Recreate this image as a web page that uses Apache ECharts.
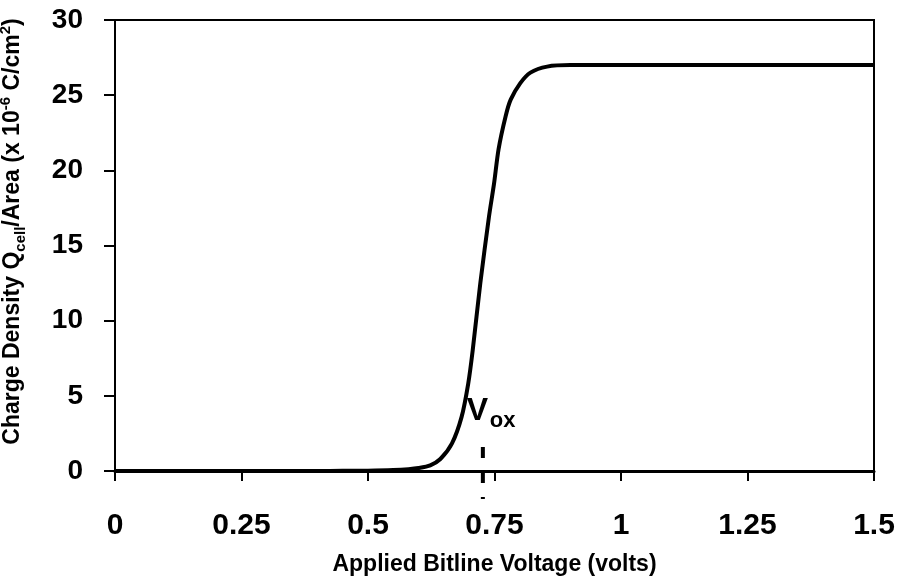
<!DOCTYPE html>
<html>
<head>
<meta charset="utf-8">
<script src="https://cdn.jsdelivr.net/npm/echarts@6/dist/echarts.min.js"></script>
<style>
  html, body { margin: 0; padding: 0; background: #fff; }
  #chart { width: 898px; height: 583px; }
</style>
</head>
<body>
<div id="chart"></div>
<script>
// applied bitline voltage (volts) and charge density (x 1e-6 C/cm^2)
var voltage = [0, 0.1, 0.2, 0.3, 0.4, 0.45, 0.5, 0.55, 0.58, 0.6, 0.623, 0.643, 0.666, 0.685, 0.698, 0.707,
  0.722, 0.739, 0.749, 0.758, 0.772, 0.782, 0.801, 0.821, 0.854, 0.9,
  1.0, 1.25, 1.5];
var charge = [0, 0, 0, 0, 0, 0.01, 0.02, 0.06, 0.12, 0.2, 0.38, 0.8, 1.84, 3.6, 5.8, 8.05,
  12.5, 16.9, 19.1, 21.4, 23.6, 24.7, 25.8, 26.5, 26.9, 27.0,
  27.0, 27.0, 27.0];
var xTicks = [0, 0.25, 0.5, 0.75, 1, 1.25, 1.5];
var yTicks = [0, 5, 10, 15, 20, 25, 30];
var voxAt = 0.727;

var font = 'Liberation Sans, Arial, sans-serif';

var chartDom = document.getElementById('chart');
var chart = echarts.init(chartDom);

var curve = voltage.map(function (v, i) { return [v, charge[i]]; });

var option = {
  animation: false,
  backgroundColor: '#fff',
  grid: {
    left: 115,
    right: 24,
    top: 20,
    bottom: 112,
    outerBoundsMode: 'none',
    containLabel: false,
    show: true,
    borderColor: '#000',
    borderWidth: 2
  },
  xAxis: {
    type: 'value',
    min: xTicks[0],
    max: xTicks[xTicks.length - 1],
    interval: 0.25,
    name: 'Applied Bitline Voltage (volts)',
    nameLocation: 'middle',
    nameGap: 82,
    nameTextStyle: { fontFamily: font, fontWeight: 'bold', fontSize: 23, color: '#000' },
    axisLine: { lineStyle: { color: '#000', width: 3 } },
    axisTick: { show: true, inside: false, length: 10, lineStyle: { color: '#000', width: 2 } },
    axisLabel: {
      margin: 40,
      fontFamily: font, fontWeight: 'bold', fontSize: 30, color: '#000',
      formatter: function (v) { return String(v); }
    },
    splitLine: { show: false }
  },
  yAxis: {
    type: 'value',
    min: yTicks[0],
    max: yTicks[yTicks.length - 1],
    interval: 5,
    name: '{a|Charge Density Q}{b|cell}{a|/Area (x 10}{c|-6}{a| C/cm}{c|2}{a|)}',
    nameLocation: 'middle',
    nameRotate: 90,
    nameGap: 87,
    nameTextStyle: {
      fontFamily: font, fontWeight: 'bold', color: '#000',
      padding: [0, 0, 0, 28],
      rich: {
        a: { fontFamily: font, fontWeight: 'bold', fontSize: 23, lineHeight: 30, verticalAlign: 'middle', color: '#000' },
        b: { fontFamily: font, fontWeight: 'bold', fontSize: 15, lineHeight: 15, verticalAlign: 'bottom', color: '#000' },
        c: { fontFamily: font, fontWeight: 'bold', fontSize: 15, lineHeight: 15, verticalAlign: 'top', color: '#000' }
      }
    },
    axisLine: { show: true, lineStyle: { color: '#000', width: 2 } },
    axisTick: { show: true, inside: false, length: 11, lineStyle: { color: '#000', width: 2 } },
    axisLabel: {
      margin: 32,
      fontFamily: font, fontWeight: 'bold', fontSize: 28, color: '#000'
    },
    splitLine: { show: false }
  },
  series: [
    {
      name: 'Qcell/Area',
      type: 'line',
      data: curve,
      smooth: 0.25,
      showSymbol: false,
      lineStyle: { color: '#000', width: 4 },
      z: 3
    },
    {
      // Vox marker: label and dashed tick placed through the axes
      name: 'Vox',
      type: 'custom',
      data: [[voxAt, 0]],
      clip: false,
      silent: true,
      renderItem: function (params, api) {
        var p = api.coord([api.value(0), api.value(1)]);
        return {
          type: 'group',
          children: [
            {
              type: 'line',
              shape: { x1: p[0], y1: p[1] - 24, x2: p[0], y2: p[1] + 28 },
              style: { stroke: '#000', lineWidth: 4, lineDash: [11, 14] }
            },
            {
              type: 'text',
              style: {
                x: p[0] - 16, y: p[1] - 60, text: 'V',
                font: 'bold 32px ' + font, fill: '#000',
                align: 'left', verticalAlign: 'middle'
              }
            },
            {
              type: 'text',
              style: {
                x: p[0] + 7, y: p[1] - 50, text: 'ox',
                font: 'bold 22px ' + font, fill: '#000',
                align: 'left', verticalAlign: 'middle'
              }
            }
          ]
        };
      },
      z: 4
    }
  ]
};

chart.setOption(option);
</script>
</body>
</html>
